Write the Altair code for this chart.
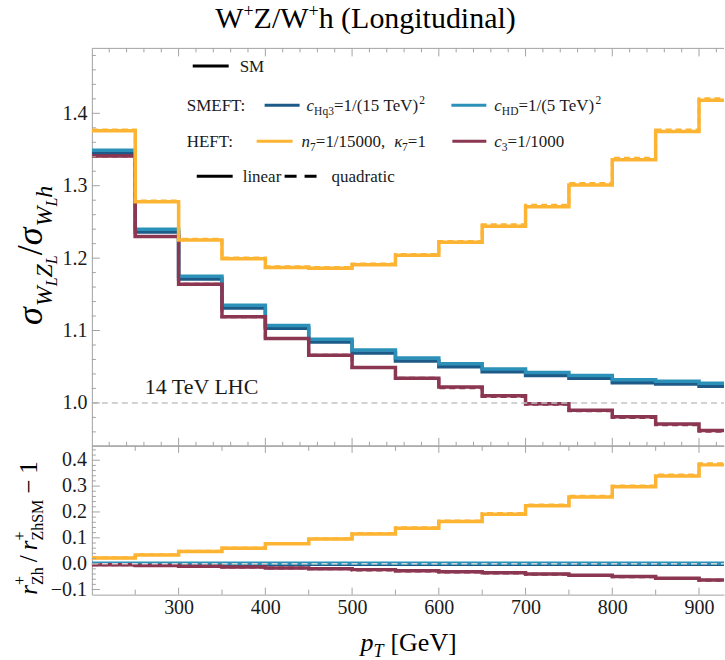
import altair as alt
import pandas as pd

FONT = "Liberation Serif"
TXT = "#1a1a1a"
FRAME = "#a3a3a3"
C_HQ3 = "#1d5a87"
C_HD = "#2b91b8"
C_N7 = "#fdb433"
C_C3 = "#8b3752"
NB = "\u00a0"

# ---------------- data ----------------
bin_edges = [200, 250, 300, 350, 400, 450, 500, 550, 600, 650, 700, 750, 800, 850, 900, 950]

top_cHq3 = [1.345, 1.236, 1.171, 1.131, 1.103, 1.084, 1.069, 1.058, 1.050, 1.043, 1.038, 1.034, 1.028, 1.026, 1.023]
top_cHD = [1.349, 1.240, 1.175, 1.135, 1.107, 1.088, 1.073, 1.062, 1.054, 1.047, 1.042, 1.038, 1.032, 1.030, 1.027]
top_n7_lin = [1.376, 1.278, 1.225, 1.199, 1.187, 1.186, 1.191, 1.204, 1.222, 1.244, 1.271, 1.301, 1.336, 1.375, 1.418]
top_n7_quad = [1.377, 1.279, 1.226, 1.200, 1.188, 1.187, 1.192, 1.205, 1.223, 1.246, 1.273, 1.303, 1.338, 1.377, 1.420]
top_c3_lin = [1.341, 1.230, 1.164, 1.119, 1.089, 1.066, 1.049, 1.034, 1.022, 1.010, 0.999, 0.990, 0.981, 0.971, 0.962]
top_c3_quad = [1.341, 1.230, 1.164, 1.119, 1.089, 1.066, 1.049, 1.034, 1.021, 1.009, 0.998, 0.989, 0.980, 0.970, 0.961]

bot_cHq3 = [-0.002, -0.002, -0.002, -0.002, -0.002, -0.002, -0.002, -0.002, -0.002, -0.002, -0.002, -0.002, -0.002, -0.002, -0.002]
bot_cHD = [0.002, 0.002, 0.002, 0.002, 0.002, 0.002, 0.002, 0.002, 0.002, 0.002, 0.002, 0.002, 0.002, 0.002, 0.002]
bot_n7_lin = [0.022, 0.034, 0.047, 0.060, 0.077, 0.095, 0.115, 0.137, 0.163, 0.191, 0.224, 0.258, 0.297, 0.339, 0.382]
bot_n7_quad = [0.023, 0.035, 0.048, 0.061, 0.078, 0.096, 0.117, 0.139, 0.165, 0.194, 0.227, 0.261, 0.300, 0.343, 0.386]
bot_c3_lin = [-0.004, -0.007, -0.010, -0.013, -0.017, -0.020, -0.023, -0.027, -0.031, -0.035, -0.040, -0.045, -0.050, -0.056, -0.063]
bot_c3_quad = [-0.004, -0.007, -0.010, -0.013, -0.017, -0.020, -0.024, -0.028, -0.032, -0.036, -0.041, -0.046, -0.051, -0.057, -0.064]

x_labels = [300, 400, 500, 600, 700, 800, 900]
top_y_labels = [1.0, 1.1, 1.2, 1.3, 1.4]
bot_y_labels = [-0.1, 0.0, 0.1, 0.2, 0.3, 0.4]

# ---------------- geometry ----------------
W = 633
H_TOP = 398
H_BOT = 149
xs = alt.Scale(domain=[200, 928.8], nice=False, zero=False)
ys_top = alt.Scale(domain=[0.9407, 1.4897], nice=False, zero=False)
ys_bot = alt.Scale(domain=[-0.1197, 0.4556], nice=False, zero=False)

ax_top_x = alt.Axis(labels=False, ticks=False, tickSize=0, domainColor=FRAME, domainWidth=1, grid=False, title=None)
ax_bot_x = alt.Axis(values=x_labels, format="d", labelFont=FONT, labelFontSize=20, labelColor=TXT,
                    labelPadding=3, ticks=False, tickSize=0, domainColor=FRAME, domainWidth=1, grid=False,
                    title=None, labelOverlap=False)
ax_top_y = alt.Axis(values=top_y_labels, format=".1f", labelFont=FONT, labelFontSize=20, labelColor=TXT,
                    labelPadding=5, ticks=False, tickSize=0, domainColor=FRAME, domainWidth=1, grid=False,
                    title=None, labelOverlap=False)
ax_bot_y = alt.Axis(labels=False, ticks=False, tickSize=0, domainColor=FRAME, domainWidth=1, grid=False,
                    title=None)

anchor = pd.DataFrame({"k": [0]})

ROMAN = {" ": 250, NB: 250, ".": 250, ",": 250, ":": 278, "/": 278, "(": 333, ")": 333, "[": 333, "]": 333,
         "=": 564, "+": 564, "\u2212": 564, "A": 722, "C": 667, "D": 722, "E": 611, "F": 556, "G": 722,
         "H": 722, "L": 611, "M": 889, "S": 556, "T": 611, "V": 722, "W": 944, "Z": 611, "a": 444,
         "c": 444, "d": 500, "e": 444, "g": 500, "h": 500, "i": 278, "l": 278, "n": 500, "o": 500,
         "q": 500, "r": 333, "t": 278, "u": 500}
ITALIC = {"c": 444, "n": 500, "p": 500, "r": 389, "h": 500, "W": 833, "Z": 556, "L": 556, "T": 556,
          "\u03c3": 520, "\u03ba": 460}


def twidth(s, size, ital):
    tab = ITALIC if ital else ROMAN
    return sum(tab.get(ch, 500) for ch in s) * size / 1000.0


def rich(tokens, x, y, angle=0, color=TXT):
    """tokens: (text, size, italic, baseline shift[, advance]); empty text = pure gap."""
    out = []
    adv = 0.0
    for tok in tokens:
        s, size, ital, shift = tok[:4]
        if s:
            out.append(
                alt.Chart(anchor).mark_text(
                    align="left", baseline="alphabetic", font=FONT, fontSize=size,
                    fontStyle="italic" if ital else "normal", angle=angle, dx=round(adv, 2), dy=shift,
                    color=color
                ).encode(x=alt.value(x), y=alt.value(y), text=alt.value(s))
            )
        adv += tok[4] if len(tok) > 4 else twidth(s, size, ital)
    return out


def gap(px):
    return ("", 0, False, 0, px)


def hline(x1, x2, y, color, dash=None, width=3.0):
    kw = dict(color=color, strokeWidth=width)
    if dash:
        kw["strokeDash"] = dash
    return alt.Chart(anchor).mark_rule(**kw).encode(x=alt.value(x1), x2=alt.value(x2), y=alt.value(y))


def step_df(series):
    rows = []
    for name, vals in series:
        for i, e in enumerate(bin_edges):
            rows.append({"s": name, "x": e, "y": vals[min(i, len(vals) - 1)]})
    return pd.DataFrame(rows)


def steps(df, name, color, X, Y, dash=None, width=3.5):
    kw = dict(interpolate="step-after", clip=True, color=color, strokeWidth=width)
    if dash:
        kw["strokeDash"] = dash
    return alt.Chart(df).transform_filter(alt.datum.s == name).mark_line(**kw).encode(x=X, y=Y)


def yticks(vals, scale, axis, length):
    d = pd.DataFrame({"v": vals})
    return alt.Chart(d).mark_rule(color=FRAME, strokeWidth=1).encode(
        y=alt.Y("v:Q", scale=scale, axis=axis), x=alt.value(0), x2=alt.value(length))


def xticks(vals, axis, ybase, length):
    d = pd.DataFrame({"v": vals})
    return alt.Chart(d).mark_rule(color=FRAME, strokeWidth=1).encode(
        x=alt.X("v:Q", scale=xs, axis=axis), y=alt.value(ybase), y2=alt.value(ybase + length))


# ---------------- top panel ----------------
df_top = step_df([("cHq3", top_cHq3), ("cHD", top_cHD), ("n7", top_n7_lin), ("n7q", top_n7_quad),
                  ("c3", top_c3_lin), ("c3q", top_c3_quad)])
XT = alt.X("x:Q", scale=xs, axis=ax_top_x)
YT = alt.Y("y:Q", scale=ys_top, axis=ax_top_y)

top_minor_y = [0.96, 0.98, 1.02, 1.04, 1.06, 1.08, 1.12, 1.14, 1.16, 1.18, 1.22, 1.24, 1.26, 1.28,
               1.32, 1.34, 1.36, 1.38, 1.42, 1.44, 1.46, 1.48]
top_minor_x = [v for v in range(220, 930, 20) if v % 100 != 0]

top_layers = [
    alt.Chart(anchor).mark_rect(opacity=0, fillOpacity=0).encode(
        x=alt.value(-92), x2=alt.value(W), y=alt.value(-48), y2=alt.value(612)),
    steps(df_top, "cHq3", C_HQ3, XT, YT),
    steps(df_top, "cHD", C_HD, XT, YT),
    steps(df_top, "c3", C_C3, XT, YT),
    steps(df_top, "c3q", C_C3, XT, YT, dash=[6, 4], width=3),
    steps(df_top, "n7", C_N7, XT, YT),
    steps(df_top, "n7q", C_N7, XT, YT, dash=[6, 4], width=3),
    alt.Chart(anchor).mark_rule(color="#c4c4c4", strokeWidth=1.5, strokeDash=[6, 4]).encode(
        y=alt.datum(1.0, scale=ys_top), x=alt.value(0), x2=alt.value(W)),
    yticks(top_y_labels, ys_top, ax_top_y, 8),
    yticks(top_minor_y, ys_top, ax_top_y, 4),
    xticks(x_labels, ax_top_x, H_TOP, -8),
    xticks(top_minor_x, ax_top_x, H_TOP, -4),
    xticks(x_labels, ax_top_x, 0, 8),
    xticks(top_minor_x, ax_top_x, 0, 4),
    hline(0, W, 0, FRAME, width=1),
]

# legend
top_layers += [hline(101, 137, 17.7, "black")]
top_layers += rich([("SM", 17, False, 0)], 148, 23.3)
top_layers += rich([("SMEFT:", 17, False, 0)], 95, 62.5)
top_layers += [hline(173, 208, 57, C_HQ3)]
top_layers += rich([("c", 17, True, 0), ("Hq3", 11.5, False, 4), ("=1/(15" + NB + "TeV)", 17, False, 0),
                    ("2", 11.5, False, -7)], 215, 62.5)
top_layers += [hline(360, 395, 57, C_HD)]
top_layers += rich([("c", 17, True, 0), ("HD", 11.5, False, 4), ("=1/(5" + NB + "TeV)", 17, False, 0),
                    ("2", 11.5, False, -7)], 403, 62.5)
top_layers += rich([("HEFT:", 17, False, 0)], 95, 98.5)
top_layers += [hline(165, 201, 93, C_N7)]
top_layers += rich([("n", 17, True, 0), ("7", 11.5, False, 4), ("=1/15000,", 17, False, 0),
                    gap(9), ("\u03ba", 17, True, 0), ("7", 11.5, False, 4),
                    ("=1", 17, False, 0)], 210, 98.5)
top_layers += [hline(361, 395, 93, C_C3)]
top_layers += rich([("c", 17, True, 0), ("3", 11.5, False, 4), ("=1/1000", 17, False, 0)], 403, 98.5)
top_layers += [hline(105, 141, 128, "black")]
top_layers += rich([("linear", 17, False, 0)], 151, 133.5)
top_layers += [hline(193, 226, 128, "black", dash=[12, 8])]
top_layers += rich([("quadratic", 17, False, 0)], 240, 133.5)

# annotation, title and y title
top_layers += rich([("14 TeV LHC", 22, False, 0)], 53, 346)
top_layers += rich([("W", 30, False, 0), ("+", 18, False, -11), ("Z/W", 30, False, 0),
                    ("+", 18, False, -11), ("h" + NB + "(Longitudinal)", 30, False, 0)], 123.5, -20, color="black")
top_layers += rich([("\u03c3", 36, True, 0), ("W", 24, True, 10), ("L", 16, True, 15),
                    ("Z", 24, True, 10), ("L", 16, True, 15), ("/", 36, False, 0),
                    ("\u03c3", 36, True, 0), ("W", 24, True, 10), ("L", 16, True, 15),
                    ("h", 24, True, 10)], -50, 277, angle=270, color="black")

top = alt.layer(*top_layers).properties(width=W, height=H_TOP)

# ---------------- bottom panel ----------------
df_bot = step_df([("cHq3", bot_cHq3), ("cHD", bot_cHD), ("n7", bot_n7_lin), ("n7q", bot_n7_quad),
                  ("c3", bot_c3_lin), ("c3q", bot_c3_quad)])
XB = alt.X("x:Q", scale=xs, axis=ax_bot_x)
YB = alt.Y("y:Q", scale=ys_bot, axis=ax_bot_y)

bot_minor_y = [-0.08, -0.06, -0.04, -0.02, 0.02, 0.04, 0.06, 0.08, 0.12, 0.14, 0.16, 0.18, 0.22, 0.24,
               0.26, 0.28, 0.32, 0.34, 0.36, 0.38, 0.42, 0.44]
bot_minor_x = [250, 350, 450, 550, 650, 750, 850]

bot_lab_df = pd.DataFrame({"v": bot_y_labels,
                           "t": [f"{v:.1f}".replace("-", "\u2212") for v in bot_y_labels]})

bot_layers = [
    steps(df_bot, "cHq3", C_HQ3, XB, YB),
    steps(df_bot, "cHD", C_HD, XB, YB),
    steps(df_bot, "c3", C_C3, XB, YB),
    steps(df_bot, "c3q", C_C3, XB, YB, dash=[6, 4], width=3),
    steps(df_bot, "n7", C_N7, XB, YB),
    steps(df_bot, "n7q", C_N7, XB, YB, dash=[6, 4], width=3),
    alt.Chart(anchor).mark_rule(color="#d4d4d4", strokeWidth=1.5, strokeDash=[6, 4]).encode(
        y=alt.datum(0.0, scale=ys_bot), x=alt.value(0), x2=alt.value(W)),
    yticks(bot_y_labels, ys_bot, ax_bot_y, 8),
    yticks(bot_minor_y, ys_bot, ax_bot_y, 4),
    xticks(x_labels, ax_bot_x, H_BOT, -7),
    xticks(bot_minor_x, ax_bot_x, H_BOT, -5),
    xticks(x_labels, ax_bot_x, 0, 7),
    xticks(bot_minor_x, ax_bot_x, 0, 5),
    hline(0, W, 0, FRAME, width=1),
    alt.Chart(bot_lab_df).mark_text(align="right", baseline="middle", font=FONT, fontSize=20,
                                     color=TXT, dx=-5).encode(
        y=alt.Y("v:Q", scale=ys_bot, axis=ax_bot_y), x=alt.value(0), text="t:N"),
]
bot_layers += rich([("p", 26, True, 0), ("T", 18, True, 6), gap(7), ("[GeV]", 26, False, 0)], 269, 205,
                   color="black")
bot_layers += rich([("r", 25, True, 0), ("+", 16, False, -12, 0), ("Zh", 16, False, 6), gap(5),
                    ("/", 25, False, 0), gap(5), ("r", 25, True, 0), ("+", 16, False, -12, 0),
                    ("ZhSM", 16, False, 6), gap(6), ("\u2212", 25, False, 0), gap(6), ("1", 25, False, 0)],
                   -55, 149, angle=270, color="black")

bot = alt.layer(*bot_layers).properties(width=W, height=H_BOT)

chart = alt.vconcat(top, bot, spacing=0, bounds="flush").properties(padding=0).configure_view(stroke=None)

chart.save("out.html", embed_options={"renderer": "svg", "actions": False})
